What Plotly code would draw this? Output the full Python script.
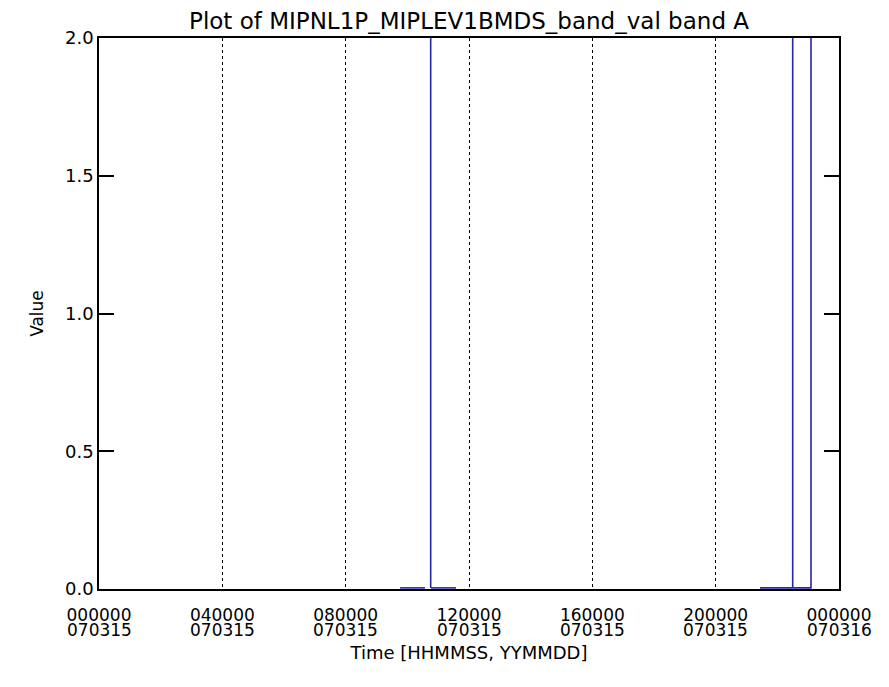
import plotly.graph_objects as go

# Time of day in seconds since 000000 on 070315; None breaks the line
times = [35150, 38060, None, 38727, 38727, None, 38760, 41680, None,
         77180, 80993, 80993, 80993, 83130, 83130]
values = [0.004, 0.004, None, 0.004, 50.0, None, 0.004, 0.004, None,
          0.004, 0.004, 50.0, 0.004, 0.004, 50.0]

tick_vals = [0, 14400, 28800, 43200, 57600, 72000, 86400]
tick_times = ["000000", "040000", "080000", "120000", "160000", "200000", "000000"]
tick_dates = ["070315", "070315", "070315", "070315", "070315", "070315", "070316"]

y_ticks = [0.0, 0.5, 1.0, 1.5, 2.0]

font = "DejaVu Sans"
tick_size = 17

fig = go.Figure(layout=go.Layout(width=889, height=687))

fig.add_trace(
    go.Scatter(
        x=times,
        y=values,
        mode="lines",
        line={"color": "#2626a8", "width": 1.6},
        connectgaps=False,
        showlegend=False,
    )
)

# Second line of each x tick label (the date)
for tv, dt in zip(tick_vals, tick_dates):
    fig.add_annotation(
        x=tv, xref="x", y=0, yref="paper",
        text=dt, showarrow=False, yanchor="top", yshift=-29,
        font={"family": font, "size": tick_size, "color": "black"},
    )

fig.update_xaxes(
    range=[0, 86400],
    tickvals=tick_vals,
    ticktext=tick_times,
    tickfont={"family": font, "size": tick_size, "color": "black"},
    ticks="",
    ticklabelstandoff=10,
    showgrid=True,
    gridcolor="black",
    gridwidth=1,
    griddash="3px,3px",
    showline=True,
    linecolor="black",
    linewidth=1.5,
    mirror=True,
    zeroline=False,
    title={"text": "Time [HHMMSS, YYMMDD]", "standoff": 22,
           "font": {"family": font, "size": 18, "color": "black"}},
)
fig.update_yaxes(
    range=[0, 2.0],
    tickvals=y_ticks,
    ticktext=[f"{v:.1f}" for v in y_ticks],
    tickfont={"family": font, "size": 18, "color": "black"},
    ticks="inside",
    ticklen=15,
    tickwidth=1.5,
    tickcolor="black",
    showgrid=False,
    showline=True,
    linecolor="black",
    linewidth=1.5,
    mirror="allticks",
    zeroline=False,
    title={"text": "Value", "standoff": 17,
           "font": {"family": font, "size": 17, "color": "black"}},
)

fig.update_layout(
    title={"text": "Plot of MIPNL1P_MIPLEV1BMDS_band_val band A",
           "x": 0.5186, "xanchor": "center", "y": 0.981, "yanchor": "middle",
           "font": {"family": font, "size": 23, "color": "black"}},
    margin={"l": 91, "r": 58, "t": 30, "b": 106},
    plot_bgcolor="white",
    paper_bgcolor="white",
)

fig.write_html("out.html")
